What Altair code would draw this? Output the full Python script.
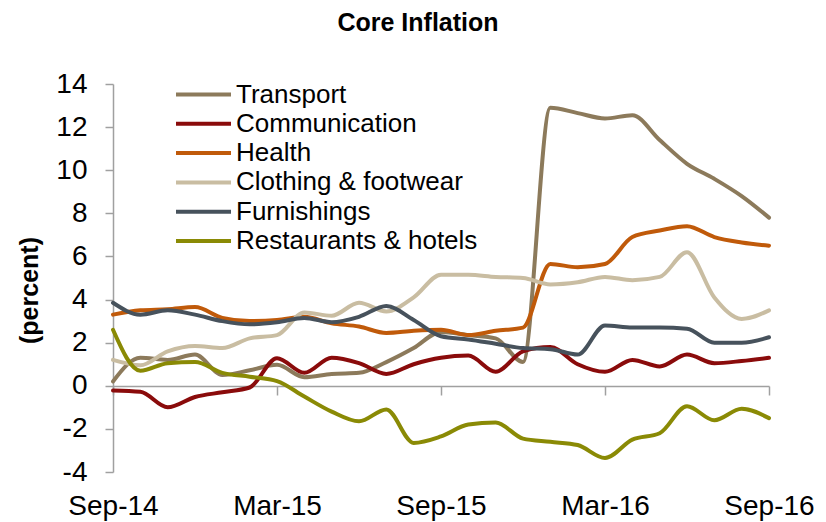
import altair as alt
import pandas as pd

months = ["Sep-14", "Oct-14", "Nov-14", "Dec-14", "Jan-15", "Feb-15", "Mar-15",
          "Apr-15", "May-15", "Jun-15", "Jul-15", "Aug-15", "Sep-15", "Oct-15",
          "Nov-15", "Dec-15", "Jan-16", "Feb-16", "Mar-16", "Apr-16", "May-16",
          "Jun-16", "Jul-16", "Aug-16", "Sep-16"]
tick_labels = ["Sep-14", "Mar-15", "Sep-15", "Mar-16", "Sep-16"]

series_names = ["Transport", "Communication", "Health", "Clothing & footwear",
                "Furnishings", "Restaurants & hotels"]
series_colors = ["#8C7A5B", "#8A0B0B", "#C05A0A", "#C9BDA2", "#47525C", "#8A8A05"]

transport = [0.2, 1.3, 1.2, 1.45, 0.5, 0.72, 0.97, 0.4, 0.55, 0.6, 1.1, 1.75,
             2.5, 2.35, 2.2, 1.1, 12.9, 12.65, 12.4, 12.55, 11.4, 10.3, 9.6, 8.8, 7.8]
communication = [-0.22, -0.28, -1.0, -0.52, -0.3, -0.08, 1.28, 0.6, 1.3, 1.05, 0.55,
                 1.0, 1.3, 1.4, 0.65, 1.6, 1.8, 1.0, 0.65, 1.2, 0.9, 1.45, 1.05, 1.15, 1.3]
health = [3.3, 3.5, 3.55, 3.65, 3.15, 3.0, 3.05, 3.2, 2.9, 2.75, 2.45, 2.55, 2.6,
          2.35, 2.55, 2.7, 5.65, 5.5, 5.65, 6.9, 7.2, 7.4, 6.9, 6.65, 6.5]
clothing = [1.2, 0.95, 1.6, 1.85, 1.75, 2.2, 2.35, 3.4, 3.25, 3.85, 3.45, 4.1, 5.15,
            5.15, 5.05, 5.0, 4.7, 4.8, 5.05, 4.9, 5.05, 6.2, 4.1, 3.1, 3.5]
furnishings = [3.85, 3.3, 3.5, 3.3, 3.0, 2.85, 2.95, 3.15, 2.95, 3.2, 3.7, 3.05, 2.3,
               2.15, 1.95, 1.75, 1.7, 1.45, 2.8, 2.7, 2.7, 2.65, 2.0, 2.0, 2.25]
restaurants = [2.6, 0.7, 1.05, 1.1, 0.6, 0.42, 0.22, -0.5, -1.2, -1.65, -1.1, -2.65,
               -2.35, -1.8, -1.7, -2.45, -2.6, -2.75, -3.35, -2.5, -2.2, -0.95, -1.6,
               -1.07, -1.5]

all_series = [transport, communication, health, clothing, furnishings, restaurants]

rows = []
for name, vals in zip(series_names, all_series):
    for i, (m, v) in enumerate(zip(months, vals)):
        rows.append({"idx": i, "month": m, "series": name, "value": v})
df = pd.DataFrame(rows)

tick_pos = [months.index(t) for t in tick_labels]
label_expr = ("[" + ",".join("'%s'" % t for t in tick_labels) + "][indexof(["
              + ",".join(str(p) for p in tick_pos) + "], datum.value)]")

FONT = "Liberation Sans"
AXIS_GRAY = "#A0A0A0"

x_enc = alt.X(
    "idx:Q",
    scale=alt.Scale(domain=[0, len(months) - 1], nice=False, zero=False),
    axis=alt.Axis(
        title=None, values=tick_pos, labelExpr=label_expr, grid=False,
        offset=-86, tickSize=9, tickColor=AXIS_GRAY, tickWidth=1.5,
        domainColor=AXIS_GRAY, domainWidth=1.5, labelPadding=97,
        labelFontSize=28, labelFont=FONT, labelColor="black",
        labelFlush=False, labelOverlap=False,
    ),
)
y_enc = alt.Y(
    "value:Q",
    scale=alt.Scale(domain=[-4, 14], nice=False),
    axis=alt.Axis(
        title="(percent)", values=list(range(-4, 15, 2)), grid=False,
        labelExpr="'' + datum.value",
        tickSize=8, tickColor=AXIS_GRAY, tickWidth=1.5, domainColor=AXIS_GRAY,
        domainWidth=1.5, labelPadding=18, labelFontSize=28, labelFont=FONT,
        labelColor="black", titleFont=FONT, titleFontSize=25,
        titleFontWeight="bold", titleColor="black", titleAngle=270,
        titleAlign="center", titleBaseline="middle", titleX=-84, titleY=206,
    ),
)
color_enc = alt.Color(
    "series:N",
    scale=alt.Scale(domain=series_names, range=series_colors),
    legend=alt.Legend(
        title=None, orient="none", legendX=61, legendY=-3, symbolType="stroke",
        symbolStrokeWidth=4, symbolSize=3025, labelFontSize=26, labelFont=FONT,
        labelColor="black", labelOffset=3, clipHeight=27, rowPadding=2.3,
        padding=0, labelLimit=500,
    ),
)

layers = []
for name in series_names:
    layers.append(
        alt.Chart(df)
        .transform_filter(alt.datum.series == name)
        .mark_line(strokeWidth=4, interpolate="monotone", strokeCap="round")
        .encode(x=x_enc, y=y_enc, color=color_enc)
    )

chart = (
    alt.layer(*layers)
    .properties(
        width=656, height=388,
        title=alt.TitleParams("Core Inflation", font=FONT, fontSize=25,
                              fontWeight="bold", color="black", anchor="middle",
                              dx=-23, offset=34),
        autosize=alt.AutoSizeParams(type="none"),
        padding={"left": 105, "top": 76, "right": 49, "bottom": 50},
    )
    .configure_view(stroke=None)
)

chart.save("out.html", embed_options={"renderer": "svg", "actions": False})
